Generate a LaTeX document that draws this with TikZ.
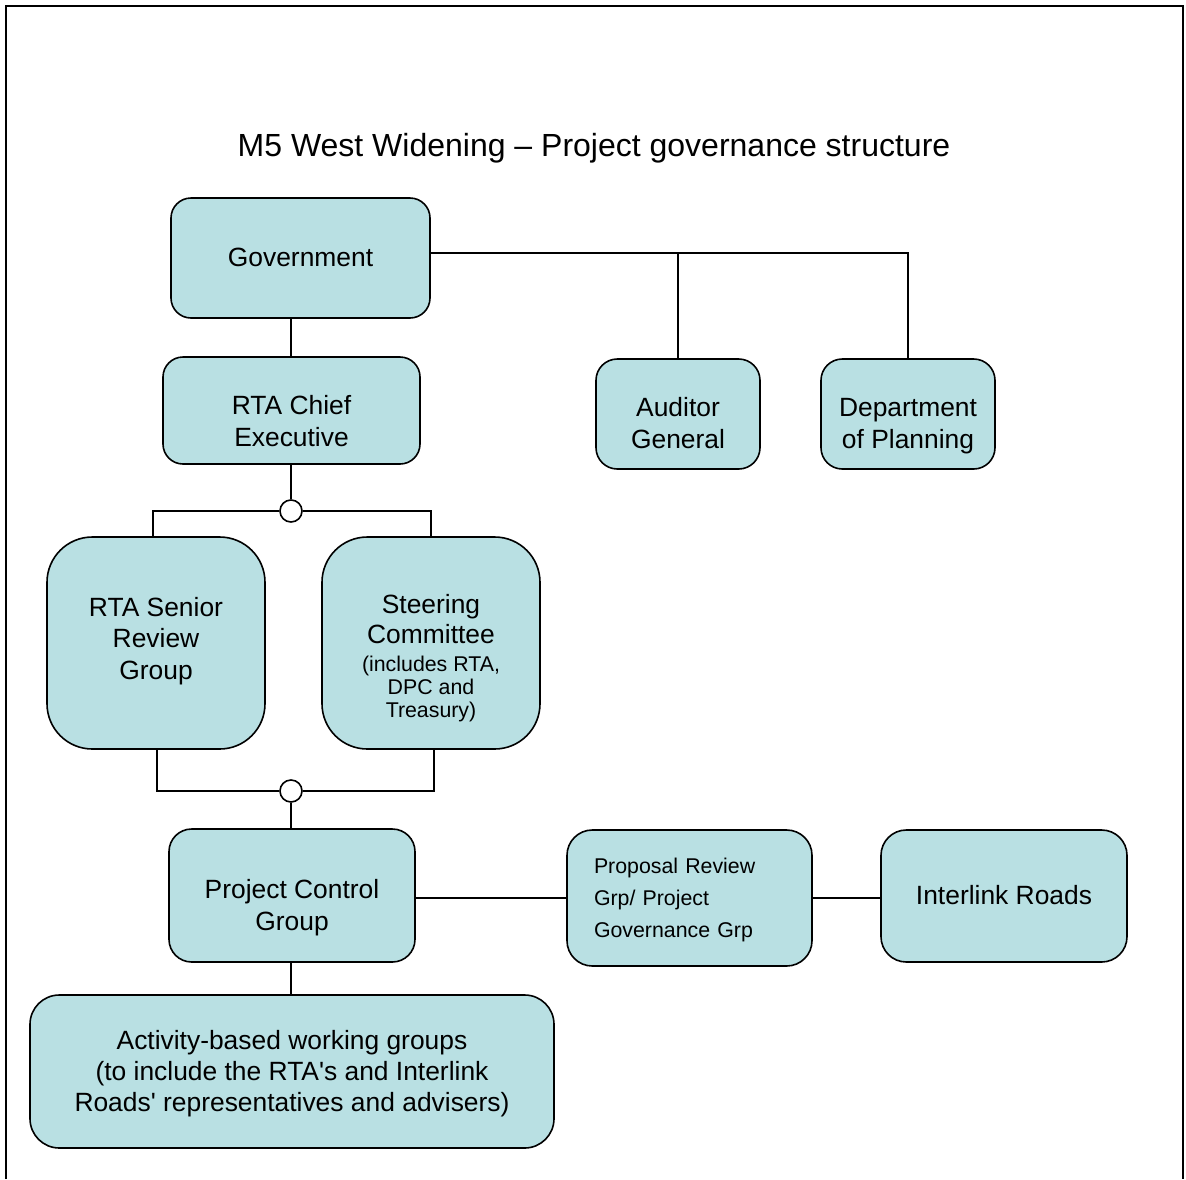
\documentclass[tikz,border=0pt]{standalone}
\usepackage{fontspec}
\setmainfont{Liberation Sans}
\definecolor{boxfill}{RGB}{185,224,227}

\begin{document}
\begin{tikzpicture}
[x=0.75pt, y=-0.75pt, every node/.style={inner sep=0pt},
 box/.style={rectangle, rounded corners=15pt, fill=boxfill, draw=black, line width=1.2pt},
 boxtext/.style={align=center, font=\fontsize{19.8}{24}\selectfont},
 knot/.style={circle, minimum size=16.5pt, fill=white, draw=black, line width=1.2pt},
 link/.style={line width=1.2pt, color=black}]
\useasboundingbox (0,0) rectangle (1186,1179);
\draw [line width=1.8pt] (6,1179) -- (6,6) -- (1183,6) -- (1183,1179);
\node (title) [font=\fontsize{24}{28}\selectfont] at (594, 148) {M5 West Widening – Project governance structure};
% boxes
\node (gov) [box, minimum width=194.25pt, minimum height=90pt] at (300.5, 258) {};
\node (rtace) [box, minimum width=192.75pt, minimum height=80.25pt] at (291.5, 410.5) {};
\node (audit) [box, rounded corners=16pt, minimum width=123pt, minimum height=82.5pt] at (678, 414) {};
\node (dept) [box, rounded corners=16pt, minimum width=130.5pt, minimum height=82.5pt] at (908, 414) {};
\node (senior) [box, rounded corners=34pt, minimum width=163.5pt, minimum height=159pt] at (156, 643) {};
\node (steer) [box, rounded corners=34pt, minimum width=163.5pt, minimum height=159pt] at (431, 643) {};
\node (pcg) [box, rounded corners=17pt, minimum width=184.5pt, minimum height=99.75pt] at (292, 895.5) {};
\node (prop) [box, rounded corners=19pt, minimum width=183.75pt, minimum height=102pt] at (689.5, 898) {};
\node (inter) [box, rounded corners=19pt, minimum width=184.5pt, minimum height=99pt] at (1004, 896) {};
\node (act) [box, rounded corners=22pt, minimum width=393pt, minimum height=114.75pt] at (292, 1071.5) {};
% texts
\node (gov-t) [boxtext] at (300.5, 257) {Government};
\node (rtace-t) [boxtext] at (291.5, 421) {RTA Chief\\Executive};
\node (audit-t) [boxtext] at (678, 423) {Auditor\\General};
\node (dept-t) [boxtext] at (908, 426.5) {Department\\of Planning};
\node (senior-t) [boxtext] at (156, 641) {RTA Senior\\[-0.5pt]Review\\[-0.5pt]Group};
\node (steer-t) [boxtext] at (431, 658.5) {Steering\\[-1.5pt]Committee\\[-3.5pt]%
  \fontsize{16}{17.5}\selectfont(includes RTA,\\[-6.5pt]\fontsize{16}{17.5}\selectfont DPC and\\[-6.5pt]%
  \fontsize{16}{17.5}\selectfont Treasury)};
\node (pcg-t) [boxtext] at (292, 908) {Project Control\\Group};
\node (prop-t) [align=left, text width=143.25pt, font=\fontsize{16}{24}\selectfont] at (689.5, 900)
  {Proposal Review\\Grp/ Project\\Governance Grp};
\node (inter-t) [boxtext] at (1004, 895.5) {Interlink Roads};
\node (act-t) [boxtext, font=\fontsize{19.8}{23.25}\selectfont] at (292, 1073.5)
  {Activity-based working groups\\(to include the RTA\textquotesingle s and Interlink\\Roads\textquotesingle{} representatives and advisers)};
% junctions
\node (knot1) [knot] at (291, 511) {};
\node (knot2) [knot] at (291, 791) {};
\coordinate (govbus) at (908, 253);
% connectors
\draw [link] (gov.east |- govbus) -- (govbus) -- (dept.north);
\draw [link] (audit.north) -- (audit.north |- govbus);
\draw [link] (knot1 |- rtace.north) -- (knot1 |- gov.south);
\draw [link] (knot1 |- rtace.south) -- (knot1.north);
\draw [link] (knot1.west) -| ([xshift=-2.25pt]senior.north);
\draw [link] (knot1.east) -| (steer.north);
\draw [link] ([xshift=0.75pt]senior.south) |- (knot2.west);
\draw [link] ([xshift=2.25pt]steer.south) |- (knot2.east);
\draw [link] (knot2.south) -- (pcg.north -| knot2.south);
\draw [link] (prop.west -| pcg.east) -- (prop.west);
\draw [link] (prop.east) -- (inter.west |- prop.east);
\draw [link] (act.north -| knot2.south) -- (pcg.south -| knot2.south);
\end{tikzpicture}
\end{document}
